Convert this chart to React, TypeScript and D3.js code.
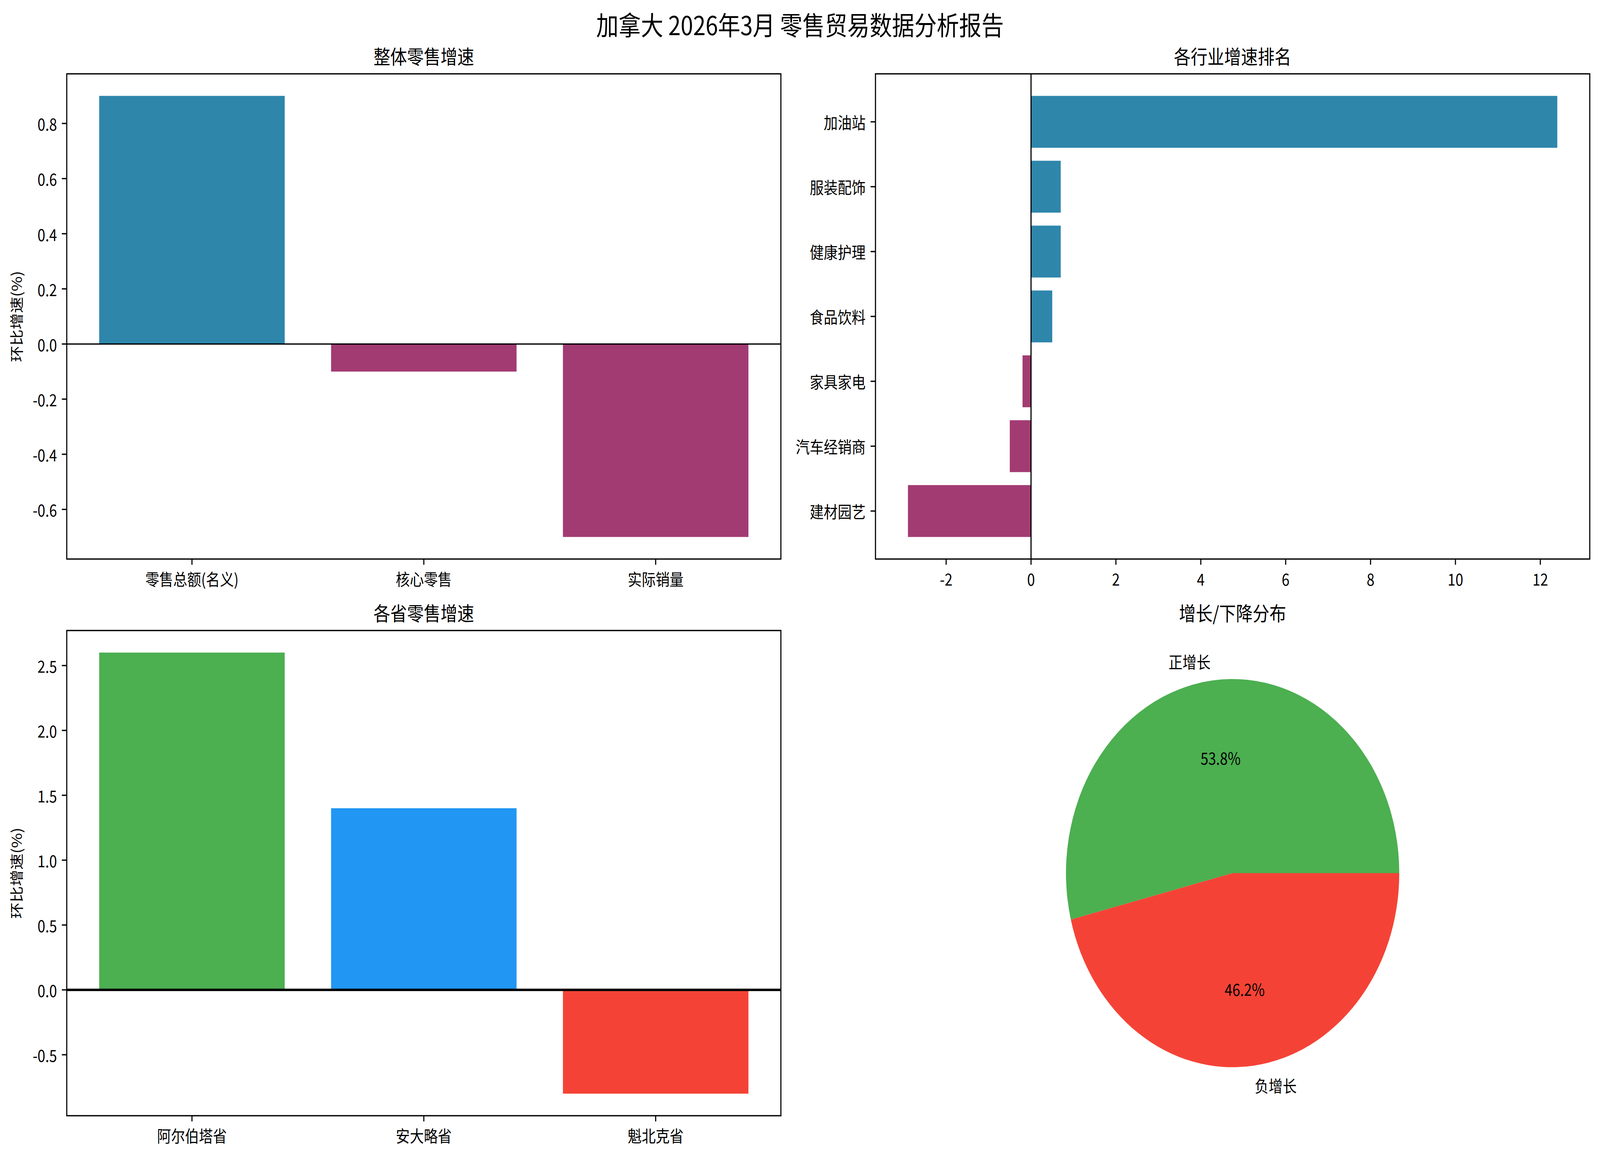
import React, { useEffect } from "react";
import * as d3 from "d3";

const W = 4770;
const H = 2954;
const FONT = '"Noto Sans CJK SC", "Noto Sans", sans-serif';
const TICK_FS = 41.7;
const TITLE_FS = 50;
const SUP_FS = 66.7;
const SPINE = 3.33;
const TICK_LEN = 14.6;
const TICK_PAD = 14.6;

const BLUE = "#2E86AB";
const MAGENTA = "#A23B72";

// overall retail
const overallNames = ["零售总额(名义)", "核心零售", "实际销量"];
const overallValues = [0.9, -0.1, -0.7];
const overallTicks = [-0.6, -0.4, -0.2, 0.0, 0.2, 0.4, 0.6, 0.8];

// industries, bottom to top
const industryNames = ["建材园艺", "汽车经销商", "家具家电", "食品饮料", "健康护理", "服装配饰", "加油站"];
const industryValues = [-2.9, -0.5, -0.2, 0.5, 0.7, 0.7, 12.4];
const industryTicks = [-2, 0, 2, 4, 6, 8, 10, 12];

// provinces
const provinceNames = ["阿尔伯塔省", "安大略省", "魁北克省"];
const provinceValues = [2.6, 1.4, -0.8];
const provinceColors = ["#4CAF50", "#2196F3", "#F44336"];
const provinceTicks = [-0.5, 0.0, 0.5, 1.0, 1.5, 2.0, 2.5];

// growth / decline split
const pieLabels = ["正增长", "负增长"];
const pieCounts = [7, 6];
const pieColors = ["#4CAF50", "#F44336"];

// matplotlib-style autoscale with 5% margins
const padDomain = (lo: number, hi: number): [number, number] => {
  const m = (hi - lo) * 0.05;
  return [lo - m, hi + m];
};

type Box = { x0: number; x1: number; y0: number; y1: number };

const TL: Box = { x0: 199, x1: 2328, y0: 189, y1: 1431 };
const TR: Box = { x0: 2610, x1: 4739.5, y0: 189, y1: 1431 };
const BL: Box = { x0: 199, x1: 2328, y0: 1614, y1: 2856 };
const BR: Box = { x0: 2610, x1: 4739.5, y0: 1614, y1: 2856 };

const Title = ({ box, text }: { box: Box; text: string }) => (
  <text x={(box.x0 + box.x1) / 2} y={box.y0 - 25} textAnchor="middle" fontSize={TITLE_FS}>
    {text}
  </text>
);

const Frame = ({ box }: { box: Box }) => (
  <rect x={box.x0} y={box.y0} width={box.x1 - box.x0} height={box.y1 - box.y0}
    fill="none" stroke="#000" strokeWidth={SPINE} />
);

const VBarChart = ({ box, names, values, colors, ticks, title, zeroWidth }: {
  box: Box; names: string[]; values: number[]; colors: string[]; ticks: number[]; title: string; zeroWidth: number;
}) => {
  const x = d3.scaleLinear().domain(padDomain(-0.4, names.length - 1 + 0.4)).range([box.x0, box.x1]);
  const y = d3.scaleLinear()
    .domain(padDomain(Math.min(0, d3.min(values)!), Math.max(0, d3.max(values)!)))
    .range([box.y1, box.y0]);
  return (
    <g>
      <Title box={box} text={title} />
      {values.map((v, i) => (
        <rect key={names[i]} x={x(i - 0.4)} width={x(i + 0.4) - x(i - 0.4)}
          y={y(Math.max(0, v))} height={Math.abs(y(v) - y(0))} fill={colors[i]} />
      ))}
      <line x1={box.x0} x2={box.x1} y1={y(0)} y2={y(0)} stroke="#000" strokeWidth={zeroWidth} />
      <Frame box={box} />
      {ticks.map((t) => (
        <g key={t}>
          <line x1={box.x0 - TICK_LEN} x2={box.x0} y1={y(t)} y2={y(t)} stroke="#000" strokeWidth={SPINE} />
          <text x={box.x0 - TICK_LEN - TICK_PAD} y={y(t)} textAnchor="end" dominantBaseline="central" fontSize={TICK_FS}>
            {t.toFixed(1)}
          </text>
        </g>
      ))}
      {names.map((n, i) => (
        <g key={n}>
          <line x1={x(i)} x2={x(i)} y1={box.y1} y2={box.y1 + TICK_LEN} stroke="#000" strokeWidth={SPINE} />
          <text x={x(i)} y={box.y1 + TICK_LEN + TICK_PAD + 21} textAnchor="middle" dominantBaseline="central" fontSize={TICK_FS}>
            {n}
          </text>
        </g>
      ))}
      <text transform={`translate(47,${(box.y0 + box.y1) / 2}) rotate(-90)`} textAnchor="middle"
        dominantBaseline="central" fontSize={TICK_FS}>
        环比增速(%)
      </text>
    </g>
  );
};

const IndustryChart = ({ box }: { box: Box }) => {
  const x = d3.scaleLinear()
    .domain(padDomain(Math.min(0, d3.min(industryValues)!), Math.max(0, d3.max(industryValues)!)))
    .range([box.x0, box.x1]);
  const y = d3.scaleLinear().domain(padDomain(-0.4, industryNames.length - 1 + 0.4)).range([box.y1, box.y0]);
  return (
    <g>
      <Title box={box} text="各行业增速排名" />
      {industryValues.map((v, i) => (
        <rect key={industryNames[i]} x={x(Math.min(0, v))} width={Math.abs(x(v) - x(0))}
          y={y(i + 0.4)} height={y(i - 0.4) - y(i + 0.4)} fill={v >= 0 ? BLUE : MAGENTA} />
      ))}
      <line x1={x(0)} x2={x(0)} y1={box.y0} y2={box.y1} stroke="#000" strokeWidth={SPINE} />
      <Frame box={box} />
      {industryNames.map((n, i) => (
        <g key={n}>
          <line x1={box.x0 - TICK_LEN} x2={box.x0} y1={y(i)} y2={y(i)} stroke="#000" strokeWidth={SPINE} />
          <text x={box.x0 - TICK_LEN - TICK_PAD} y={y(i)} textAnchor="end" dominantBaseline="central" fontSize={TICK_FS}>
            {n}
          </text>
        </g>
      ))}
      {industryTicks.map((t) => (
        <g key={t}>
          <line x1={x(t)} x2={x(t)} y1={box.y1} y2={box.y1 + TICK_LEN} stroke="#000" strokeWidth={SPINE} />
          <text x={x(t)} y={box.y1 + TICK_LEN + TICK_PAD + 21} textAnchor="middle" dominantBaseline="central" fontSize={TICK_FS}>
            {String(t)}
          </text>
        </g>
      ))}
    </g>
  );
};

const PieChart = ({ box }: { box: Box }) => {
  const cx = (box.x0 + box.x1) / 2;
  const cy = (box.y0 + box.y1) / 2;
  const r = (box.y1 - box.y0) / 2 / 1.25;
  const total = d3.sum(pieCounts);
  // start at 3 o'clock, counter-clockwise
  const arcs = d3.pie<number>().sort(null).startAngle(Math.PI / 2).endAngle(Math.PI / 2 - 2 * Math.PI)(pieCounts);
  const arc = d3.arc<d3.PieArcDatum<number>>().innerRadius(0).outerRadius(r);
  return (
    <g>
      <Title box={box} text="增长/下降分布" />
      <g transform={`translate(${cx},${cy})`}>
        {arcs.map((a, i) => {
          const mid = (a.startAngle + a.endAngle) / 2;
          const lx = Math.sin(mid) * r * 1.1;
          const ly = -Math.cos(mid) * r * 1.1;
          const px = Math.sin(mid) * r * 0.6;
          const py = -Math.cos(mid) * r * 0.6;
          return (
            <g key={pieLabels[i]}>
              <path d={arc(a)!} fill={pieColors[i]} />
              <text x={lx} y={ly} textAnchor={lx < 0 ? "end" : "start"} dominantBaseline="central" fontSize={TICK_FS}>
                {pieLabels[i]}
              </text>
              <text x={px} y={py} textAnchor="middle" dominantBaseline="central" fontSize={TICK_FS}>
                {((pieCounts[i] / total) * 100).toFixed(1)}%
              </text>
            </g>
          );
        })}
      </g>
    </g>
  );
};

export default function App() {
  useEffect(() => {
    document.body.style.margin = "0";
    document.body.style.overflow = "hidden";
  }, []);
  // the browser caps the viewport width, so stretch the 4770x2954 figure onto it
  return (
    <svg viewBox={`0 0 ${W} ${H}`} preserveAspectRatio="none"
      style={{ position: "fixed", left: 0, top: 0, width: "100vw", height: "100vh", background: "#fff" }}
      fontFamily={FONT} fill="#000">
      <rect width={W} height={H} fill="#fff" />
      <text x={W / 2} y={61} textAnchor="middle" dominantBaseline="central" fontSize={SUP_FS}>
        加拿大 2026年3月 零售贸易数据分析报告
      </text>
      <VBarChart box={TL} names={overallNames} values={overallValues}
        colors={overallValues.map((v) => (v >= 0 ? BLUE : MAGENTA))}
        ticks={overallTicks} title="整体零售增速" zeroWidth={SPINE} />
      <IndustryChart box={TR} />
      <VBarChart box={BL} names={provinceNames} values={provinceValues} colors={provinceColors}
        ticks={provinceTicks} title="各省零售增速" zeroWidth={6.25} />
      <PieChart box={BR} />
    </svg>
  );
}
